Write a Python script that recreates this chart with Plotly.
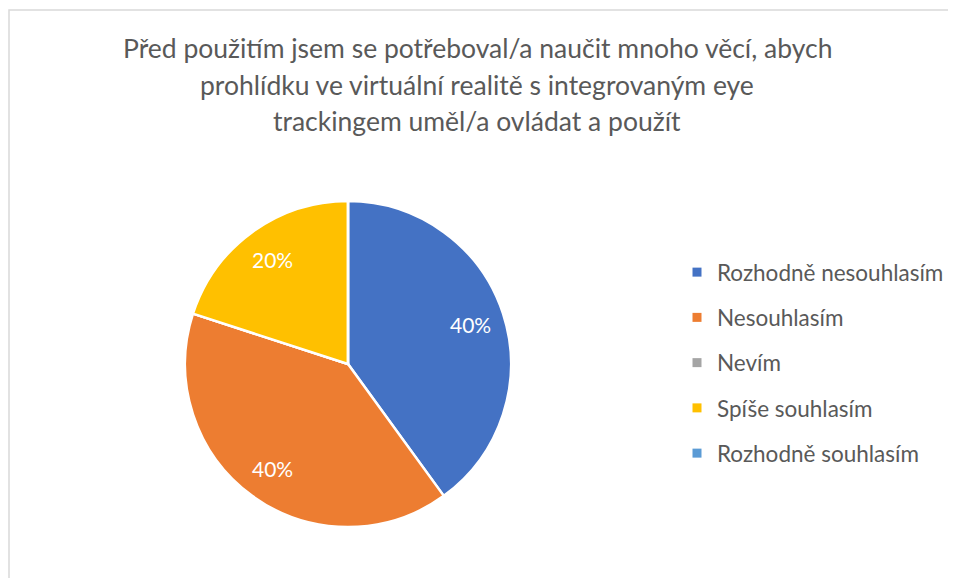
import math
import plotly.graph_objects as go

title_lines = [
    "Před použitím jsem se potřeboval/a naučit mnoho věcí, abych",
    "prohlídku ve virtuální realitě s integrovaným eye",
    "trackingem uměl/a ovládat a použít",
]
categories = ["Rozhodně nesouhlasím", "Nesouhlasím", "Nevím", "Spíše souhlasím", "Rozhodně souhlasím"]
counts = [2, 2, 0, 1, 0]
colors = ["#4472C4", "#ED7D31", "#A5A5A5", "#FFC000", "#5B9BD5"]

W, H = 956, 578
OFF = 8  # page body margin
FONT = "Lato"
total = sum(counts)

fig = go.Figure()
cx, cy, r = 348 - OFF, 364 - OFF, 163
fig.add_trace(go.Pie(
    labels=categories, values=counts, textinfo="none",
    sort=False, direction="clockwise", rotation=0,
    marker=dict(colors=colors, line=dict(color="white", width=2.5)),
    domain=dict(x=[(cx - r) / W, (cx + r) / W], y=[(H - cy - r) / H, (H - cy + r) / H]),
    showlegend=False, hoverinfo="label+percent",
))

# data labels placed along each slice bisector
cum = 0
for c in counts:
    if c:
        mid = 2 * math.pi * (cum + c / 2) / total
        lx = cx + 0.79 * r * math.sin(mid)
        ly = cy - 0.79 * r * math.cos(mid)
        fig.add_annotation(text=f"{round(100 * c / total)}%", x=lx / W, y=1 - ly / H,
                           xref="paper", yref="paper", showarrow=False,
                           xanchor="center", yanchor="middle",
                           font=dict(family=FONT, size=21, color="white"))
    cum += c

for i, (cat, col) in enumerate(zip(categories, colors)):
    fig.add_trace(go.Scatter(
        x=[None], y=[None], mode="markers", name=cat, legendgroup=f"g{i}",
        marker=dict(symbol="square", size=9, color=col),
    ))

title_y = [48, 85, 121]
for line, yy in zip(title_lines, title_y):
    fig.add_annotation(text=line, x=(477 - OFF) / W, y=1 - (yy - OFF) / H, xref="paper", yref="paper",
                       showarrow=False, xanchor="center", yanchor="middle",
                       font=dict(family=FONT, size=26.5, color="#595959"))

fig.add_shape(type="rect", xref="paper", yref="paper",
              x0=(9 - OFF) / W, x1=1.2, y0=-0.2, y1=1 - (10 - OFF) / H,
              line=dict(color="#D9D9D9", width=1.5), fillcolor="rgba(0,0,0,0)")

fig.update_layout(
    width=W, height=H,
    margin=dict(l=0, r=0, t=0, b=0),
    paper_bgcolor="white", plot_bgcolor="white",
    xaxis=dict(visible=False), yaxis=dict(visible=False),
    showlegend=True,
    legend=dict(x=669 / W, y=1 - 243 / H, xanchor="left", yanchor="top",
                tracegroupgap=13, font=dict(family=FONT, size=22.5, color="#595959"),
                bgcolor="rgba(0,0,0,0)"),
)
fig.write_html("out.html")
